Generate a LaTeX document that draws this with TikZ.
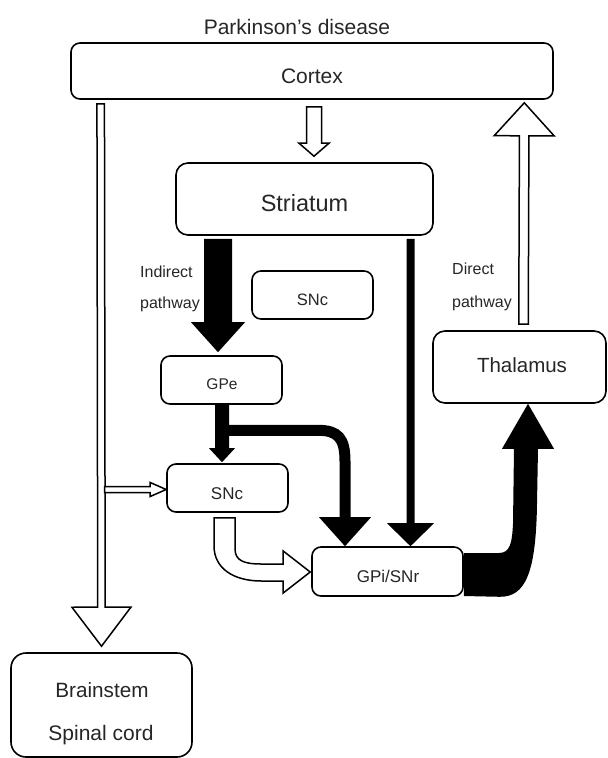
\documentclass[tikz,border=0pt]{standalone}
\usepackage{fontspec}
\setmainfont{Liberation Sans}
\usetikzlibrary{calc}

% Straight block arrow: [style]{tail}{tip}{shaft half width}{head half width}{head length}
\newcommand\blockarrow[6][]{%
  \coordinate (ba-base) at ($#3!#6!#2$);
  \path[#1] ($#2!#4!90:#3$) -- ($(ba-base)!#4!90:#3$) -- ($(ba-base)!#5!90:#3$)
    -- #3 -- ($(ba-base)!#5!-90:#3$) -- ($(ba-base)!#4!-90:#3$)
    -- ($#2!#4!-90:#3$) -- cycle;
}

\begin{document}
\begin{tikzpicture}[x=1pt, y=-1pt,
  box/.style={draw=black, line width=1.6pt, fill=white, inner sep=0pt},
  lbl/.style={text=black!85, inner sep=0pt, text depth=0pt},
  hollow/.style={draw=black, line width=1.5pt, fill=white, line join=miter},
  solidarrow/.style={fill=black}]
\useasboundingbox (0,0) rectangle (608,758);

% ---- boxes ----
\node[box, rounded corners=9pt,  minimum width=482pt, minimum height=56pt]  (cortex)   at (312,71) {};
\node[box, rounded corners=12pt, minimum width=257pt, minimum height=72pt]  (striatum) at (304.5,199) {};
\node[box, rounded corners=9pt,  minimum width=121pt, minimum height=48pt]  (sncA)     at (312.5,295) {};
\node[box, rounded corners=9pt,  minimum width=121pt, minimum height=48pt]  (gpe)      at (221.5,380) {};
\node[box, rounded corners=9pt,  minimum width=121pt, minimum height=48pt]  (sncB)     at (227.5,488) {};
\node[box, rounded corners=9pt,  minimum width=151pt, minimum height=49pt]  (gpi)      at (387.5,571.5) {};
\node[box, rounded corners=12pt, minimum width=173pt, minimum height=72pt]  (thal)     at (519.5,367) {};
\node[box, rounded corners=15pt, minimum width=181pt, minimum height=104pt] (brain)    at (101.5,705) {};

% ---- arrow end points ----
\coordinate (c2s-tail)  at ($(cortex.south)+(2,7)$);
\coordinate (c2s-tip)   at ($(striatum.north)+(9.5,-6)$);
\coordinate (th2c-tail) at ($(thal.north)+(4,-6)$);
\coordinate (th2c-tip)  at ($(cortex.south east)+(-29.5,3)$);
\coordinate (c2b-tail)  at ($(cortex.south west)+(30.5,4)$);
\coordinate (c2b-tip)   at ($(brain.north)+(0,-6)$);
\coordinate (tap)       at ($(sncB.west)+(-61.5,1.5)$);
\coordinate (tap-tip)   at ($(sncB.west)+(0,1.5)$);
\coordinate (ind-tail)  at ($(striatum.south)+(-86.5,3)$);
\coordinate (ind-tip)   at ($(gpe.north)+(-3.5,-3)$);
\coordinate (dir-tail)  at ($(striatum.south)+(106,3)$);
\coordinate (dir-tip)   at ($(gpi.north)+(23,0)$);
\coordinate (g2s-tail)  at ($(gpe.south)+(0.5,0)$);
\coordinate (g2s-tip)   at ($(sncB.north)+(-5.5,-1)$);
\coordinate (br-a)      at ($(gpe.south)+(0.5,25.5)$);
\coordinate (br-tip)    at ($(gpi.north)+(-42.5,0)$);
\coordinate (up-a)      at ($(gpi.east)+(0,-18.5)$);
\coordinate (up-b)      at ($(gpi.east)+(0,24.5)$);
\coordinate (up-tip)    at ($(thal.south)+(8.5,0)$);
\coordinate (bend-tail) at ($(sncB.south)+(-3,5)$);
\coordinate (bend-tip)  at ($(gpi.west)+(-1,0.5)$);

% ---- hollow arrows ----
\blockarrow[hollow]{(c2s-tail)}{(c2s-tip)}{7.5pt}{15pt}{13pt}
\blockarrow[hollow]{(th2c-tail)}{(th2c-tip)}{4.75pt}{30pt}{33pt}
\blockarrow[hollow]{(c2b-tail)}{(c2b-tip)}{3.75pt}{29.5pt}{39pt}
\blockarrow[hollow]{(tap)}{(tap-tip)}{3pt}{7pt}{16pt}

% bent hollow arrow SNc -> GPi/SNr
\path[hollow] ($(bend-tail)+(-10.5,0)$) -- ($(bend-tail)+(-10.5,28)$)
  .. controls ($(bend-tail)+(-10.5,51)$) and ($(bend-tip)+(-76,9)$) .. ($(bend-tip)+(-49,9)$)
  -- ($(bend-tip)+(-27,9)$) -- ($(bend-tip)+(-27,21)$) -- (bend-tip)
  -- ($(bend-tip)+(-27,-21)$) -- ($(bend-tip)+(-27,-8)$) -- ($(bend-tip)+(-49,-8)$)
  .. controls ($(bend-tip)+(-66,-8)$) and ($(bend-tail)+(10.5,43)$) .. ($(bend-tail)+(10.5,31)$)
  -- ($(bend-tail)+(10.5,0)$) -- cycle;

% ---- solid arrows ----
\blockarrow[solidarrow]{(ind-tail)}{(ind-tip)}{14pt}{27pt}{30pt}
\blockarrow[solidarrow]{(dir-tail)}{(dir-tip)}{4pt}{23.5pt}{23pt}
\blockarrow[solidarrow]{(g2s-tail)}{(g2s-tip)}{7pt}{13pt}{14pt}

% branch GPe -> GPi/SNr
\draw[line width=11pt, line cap=butt] (br-a) -- ($(br-a)+(96,0)$)
  .. controls ($(br-a)+(116,0)$) and ($(br-tip)+(0,-108)$) .. ($(br-tip)+(0,-85)$)
  -- ($(br-tip)+(0,-28)$);
\fill ($(br-tip)+(-26,-29)$) -- ($(br-tip)+(26,-29)$) -- (br-tip) -- cycle;

% wide curved arrow GPi/SNr -> Thalamus
\fill (up-a) -- ($(up-a)+(35,0)$)
  .. controls ($(up-a)+(46,0)$) and ($(up-tip)+(-16,140)$) .. ($(up-tip)+(-15,120)$)
  -- ($(up-tip)+(-14,45)$) -- ($(up-tip)+(-26,45)$) -- (up-tip)
  -- ($(up-tip)+(26,45)$) -- ($(up-tip)+(10,45)$) -- ($(up-tip)+(9,100)$)
  .. controls ($(up-tip)+(8,170)$) and ($(up-tip)+(-3,193)$) .. ($(up-tip)+(-28,193)$)
  -- (up-b) -- cycle;

% ---- labels ----
\node[lbl, font=\fontsize{21}{25}\selectfont] (title) at (297,26.5) {Parkinson's disease};
\node[lbl, font=\fontsize{21}{25}\selectfont] (cortexT) at (312,76.5) {Cortex};
\node[lbl, font=\fontsize{23.5}{28}\selectfont] (striatumT) at (304.5,202.5) {Striatum};
\node[lbl, font=\fontsize{16.5}{20}\selectfont] (sncAT) at (312.5,300) {SNc};
\node[lbl, font=\fontsize{16}{19}\selectfont, anchor=west] (indA) at (140,271.5) {Indirect};
\node[lbl, font=\fontsize{16}{19}\selectfont, anchor=west] (indB) at (140,303) {pathway};
\node[lbl, font=\fontsize{16}{19}\selectfont, anchor=west] (dirA) at (452,268.5) {Direct};
\node[lbl, font=\fontsize{16}{19}\selectfont, anchor=west] (dirB) at (452,302) {pathway};
\node[lbl, font=\fontsize{15.5}{19}\selectfont] (gpeT) at (222,384) {GPe};
\node[lbl, font=\fontsize{17}{20}\selectfont] (sncBT) at (227,494) {SNc};
\node[lbl, font=\fontsize{17}{20}\selectfont] (gpiT) at (388,576.5) {GPi/SNr};
\node[lbl, font=\fontsize{20.5}{24}\selectfont] (thalT) at (522,365.5) {Thalamus};
\node[lbl, font=\fontsize{20.7}{25}\selectfont] (brainA) at (102,689.5) {Brainstem};
\node[lbl, font=\fontsize{21}{25}\selectfont] (brainB) at (101,733) {Spinal cord};
\end{tikzpicture}
\end{document}
